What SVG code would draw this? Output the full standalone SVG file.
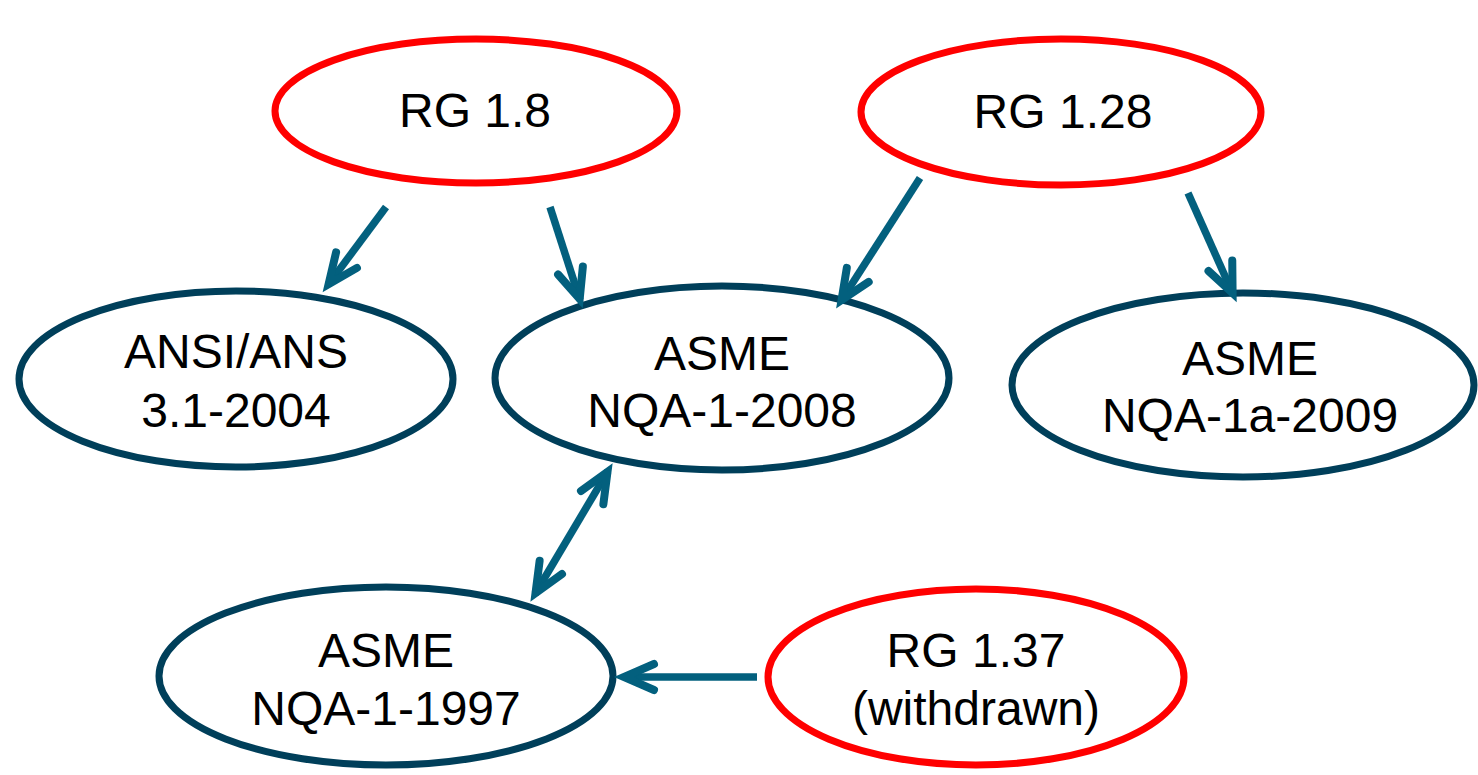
<svg xmlns="http://www.w3.org/2000/svg" width="1478" height="775" viewBox="0 0 1478 775">
<style>
.rg{fill:#fff;stroke:#ff0000;stroke-width:7}
.std{fill:#fff;stroke:#003f5a;stroke-width:7}
.t{font-family:"Liberation Sans",Arial,sans-serif;font-size:48px;fill:#000;text-anchor:middle}
.c{stroke:#03607e;stroke-width:7.5;fill:none;marker-end:url(#ah)}
</style>
<defs>
<marker id="ah" viewBox="-40 -20 50 40" refX="0" refY="0" markerUnits="userSpaceOnUse" markerWidth="50" markerHeight="40" orient="auto-start-reverse">
<path d="M-31,-13 L-1,0 L-31,13" fill="none" stroke="#03607e" stroke-width="8" stroke-linecap="round" stroke-linejoin="miter"/>
</marker>
</defs>
<rect width="1478" height="775" fill="#fff"/>
<g id="rg18"><ellipse class="rg" cx="476" cy="111" rx="201" ry="72"/><text class="t" x="475" y="127">RG 1.8</text></g>
<g id="rg128"><ellipse class="rg" cx="1061" cy="112" rx="200" ry="73"/><text class="t" x="1063" y="128">RG 1.28</text></g>
<g id="ansi"><ellipse class="std" cx="236" cy="379" rx="217" ry="88"/><text class="t" x="236" y="368">ANSI/ANS</text><text class="t" x="236" y="427">3.1-2004</text></g>
<g id="nqa2008"><ellipse class="std" cx="722" cy="378" rx="227" ry="92"/><text class="t" x="722" y="370">ASME</text><text class="t" x="722" y="427">NQA-1-2008</text></g>
<g id="nqa2009"><ellipse class="std" cx="1243" cy="385" rx="231" ry="92"/><text class="t" x="1250" y="375">ASME</text><text class="t" x="1250" y="432">NQA-1a-2009</text></g>
<g id="nqa1997"><ellipse class="std" cx="386" cy="676" rx="227" ry="89"/><text class="t" x="386" y="667">ASME</text><text class="t" x="386" y="725">NQA-1-1997</text></g>
<g id="rg137"><ellipse class="rg" cx="976" cy="677" rx="208" ry="88"/><text class="t" x="976" y="667">RG 1.37</text><text class="t" x="976" y="725">(withdrawn)</text></g>
<g id="connectors">
<line class="c" x1="386" y1="207" x2="328" y2="285"/>
<line class="c" x1="550" y1="207" x2="580" y2="300"/>
<line class="c" x1="920" y1="178" x2="841" y2="301"/>
<line class="c" x1="1188" y1="193" x2="1233" y2="294"/>
<line class="c" x1="535" y1="594" x2="608" y2="471" style="marker-start:url(#ah)"/>
<line class="c" x1="757" y1="677" x2="623" y2="677"/>
</g>
</svg>
